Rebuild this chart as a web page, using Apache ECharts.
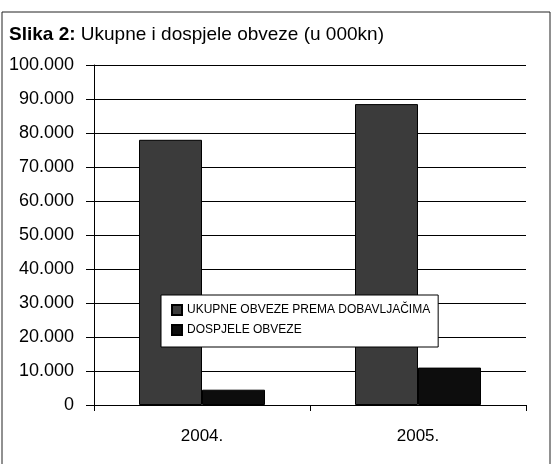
<!DOCTYPE html>
<html>
<head>
<meta charset="utf-8">
<script src="https://cdn.jsdelivr.net/npm/echarts@6/dist/echarts.min.js"></script>
<style>
html,body{margin:0;padding:0;background:#fff;}
#chart{width:552px;height:464px;}
</style>
</head>
<body>
<div id="chart"></div>
<script>
var categories = ['2004.', '2005.'];
var ukupne = [78000, 88500];
var dospjele = [4500, 11000];
var seriesNames = ['UKUPNE OBVEZE PREMA DOBAVLJAČIMA', 'DOSPJELE OBVEZE'];

var FONT = '"Liberation Sans", Arial, sans-serif';

function fmt(v) {
    return String(v).replace(/\B(?=(\d{3})+(?!\d))/g, '.');
}

var chart = echarts.init(document.getElementById('chart'));
var option = {
    animation: false,
    textStyle: { fontFamily: FONT, color: '#000' },
    title: {
        text: '{b|Slika 2:} Ukupne i dospjele obveze (u 000kn)',
        left: 4,
        top: 20,
        textStyle: {
            fontFamily: FONT,
            fontSize: 19,
            fontWeight: 'normal',
            color: '#000',
            rich: {
                b: { fontFamily: FONT, fontSize: 19, fontWeight: 'bold', color: '#000' }
            }
        }
    },
    legend: {
        orient: 'vertical',
        left: 161,
        top: 295,
        icon: 'rect',
        itemWidth: 10,
        itemHeight: 10,
        itemGap: 8,
        padding: [9, 8, 11, 10],
        borderColor: '#000',
        borderWidth: 1,
        backgroundColor: '#fff',
        textStyle: { fontFamily: FONT, fontSize: 12, color: '#000' },
        data: seriesNames
    },
    grid: {
        left: 94,
        right: 26,
        top: 65,
        bottom: 59,
        containLabel: false
    },
    xAxis: {
        type: 'category',
        data: categories,
        axisLine: { lineStyle: { color: '#000', width: 1 } },
        axisTick: { show: true, length: 6, lineStyle: { color: '#000' } },
        axisLabel: { fontFamily: FONT, fontSize: 17, color: '#000', margin: 23 }
    },
    yAxis: {
        type: 'value',
        min: 0,
        max: 100000,
        interval: 10000,
        axisLine: { show: true, lineStyle: { color: '#000', width: 1 } },
        axisTick: { show: true, length: 8, lineStyle: { color: '#000' } },
        splitLine: { lineStyle: { color: '#000', width: 1 } },
        axisLabel: {
            fontFamily: FONT,
            fontSize: 18,
            color: '#000',
            margin: 20,
            formatter: fmt
        }
    },
    series: [
        {
            name: seriesNames[0],
            type: 'bar',
            data: ukupne,
            barWidth: 63,
            barGap: '0%',
            itemStyle: { color: '#3b3b3b', borderColor: '#000', borderWidth: 1 }
        },
        {
            name: seriesNames[1],
            type: 'bar',
            data: dospjele,
            barWidth: 63,
            barGap: '0%',
            itemStyle: { color: '#0d0d0d', borderColor: '#000', borderWidth: 1 }
        }
    ],
    graphic: [
        {
            type: 'rect',
            shape: { x: 2, y: 12, width: 548, height: 460 },
            style: { fill: 'none', stroke: '#222', lineWidth: 1 },
            silent: true
        }
    ]
};
chart.setOption(option);
</script>
</body>
</html>
